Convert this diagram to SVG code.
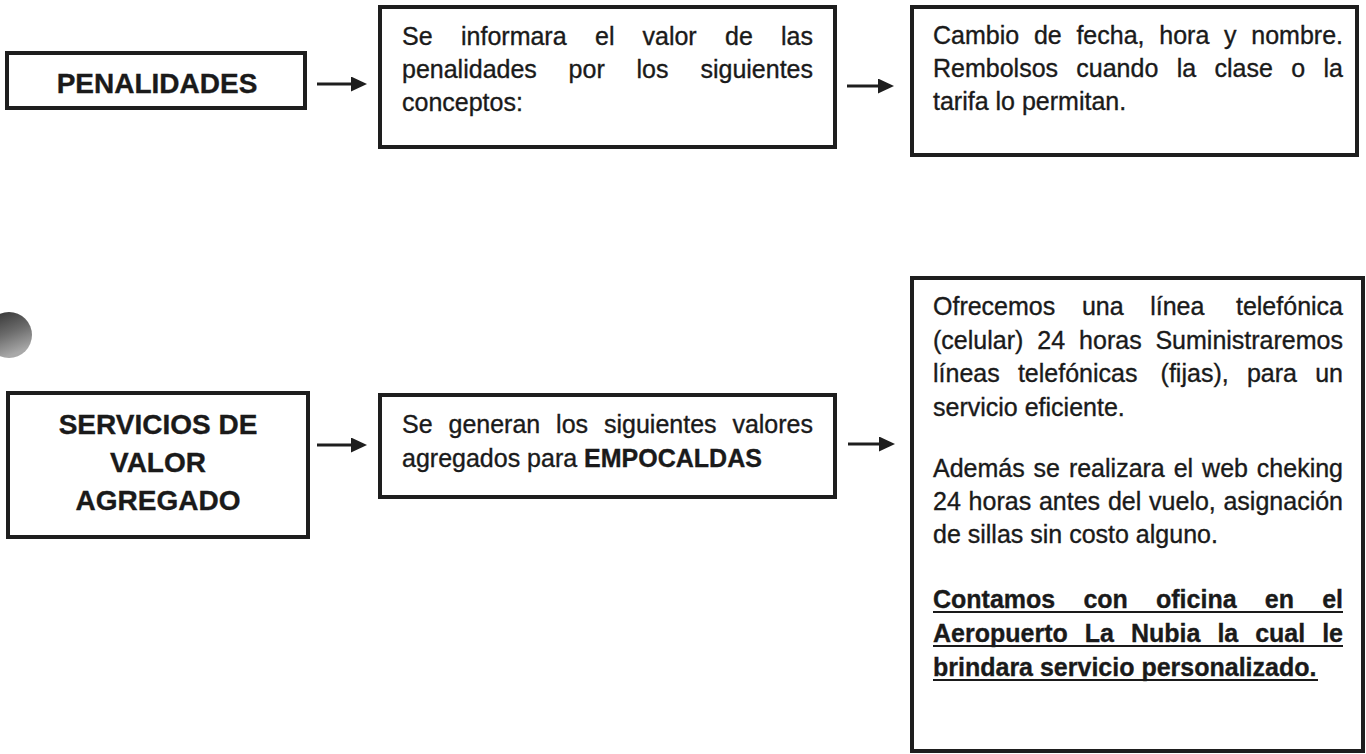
<svg xmlns="http://www.w3.org/2000/svg" width="1366" height="754" viewBox="0 0 1366 754">
<style>
.box{fill:#fff;stroke:#1e1e1e;stroke-width:4}
.t{font-family:"Liberation Sans",Arial,sans-serif;font-size:25px;fill:#1a1a1a;stroke:#1a1a1a;stroke-width:0.35}
.b{font-weight:bold}
.title{font-family:"Liberation Sans",Arial,sans-serif;font-size:28px;font-weight:bold;fill:#1a1a1a;stroke:#1a1a1a;stroke-width:0.35;text-anchor:middle}
.e{text-anchor:end}
.conn{stroke:#1e1e1e;stroke-width:3;fill:none}
.ul{stroke:#1a1a1a;stroke-width:2.2}
</style>
<defs>
<marker id="ah" viewBox="0 0 16 15" refX="1" refY="7.5" markerWidth="16" markerHeight="15" markerUnits="userSpaceOnUse" orient="auto">
<path d="M0,0 L16,7.5 L0,15 z" fill="#1e1e1e"/>
</marker>
<linearGradient id="hole" x1="0" y1="0" x2="0.4" y2="1">
<stop offset="0" stop-color="#2e2e2e"/>
<stop offset="0.55" stop-color="#6a6a6a"/>
<stop offset="1" stop-color="#a8a8a8"/>
</linearGradient>
</defs>
<rect width="1366" height="754" fill="#fff"/>
<circle cx="9" cy="335" r="23" fill="url(#hole)"/>

<g id="penalidades">
<rect class="box" x="7" y="53" width="298" height="55"/>
<text class="title" x="157" y="93">PENALIDADES</text>
</g>

<g id="informara">
<rect class="box" x="380" y="7" width="455" height="140"/>
<text class="t"><tspan x="402" y="45">Se</tspan><tspan x="461" y="45">informara</tspan><tspan x="595" y="45">el</tspan><tspan x="642.5" y="45">valor</tspan><tspan x="725" y="45">de</tspan><tspan class="e" x="813" y="45">las</tspan></text>
<text class="t"><tspan x="402" y="78">penalidades</tspan><tspan x="568.6" y="78">por</tspan><tspan x="636.5" y="78">los</tspan><tspan class="e" x="813" y="78">siguientes</tspan></text>
<text class="t" x="402" y="111">conceptos:</text>
</g>

<g id="cambio">
<rect class="box" x="912" y="7" width="445" height="148"/>
<text class="t"><tspan x="933" y="44">Cambio</tspan><tspan x="1033.9" y="44">de</tspan><tspan x="1076.4" y="44">fecha,</tspan><tspan x="1159.3" y="44">hora</tspan><tspan x="1224" y="44">y</tspan><tspan class="e" x="1343" y="44">nombre.</tspan></text>
<text class="t"><tspan x="933" y="77">Rembolsos</tspan><tspan x="1076.3" y="77">cuando</tspan><tspan x="1176.7" y="77">la</tspan><tspan x="1214.5" y="77">clase</tspan><tspan x="1291.2" y="77">o</tspan><tspan class="e" x="1343" y="77">la</tspan></text>
<text class="t" x="933" y="110">tarifa lo permitan.</text>
</g>

<g id="servicios">
<rect class="box" x="8" y="393" width="300" height="144"/>
<text class="title" x="158" y="434">SERVICIOS DE</text>
<text class="title" x="158" y="472">VALOR</text>
<text class="title" x="158" y="510">AGREGADO</text>
</g>

<g id="generan">
<rect class="box" x="380" y="395" width="455" height="102"/>
<text class="t"><tspan x="402" y="433">Se</tspan><tspan x="448.5" y="433">generan</tspan><tspan x="556.1" y="433">los</tspan><tspan x="604" y="433">siguientes</tspan><tspan class="e" x="813" y="433">valores</tspan></text>
<text class="t" x="402" y="467">agregados para <tspan class="b">EMPOCALDAS</tspan></text>
</g>

<g id="ofrecemos">
<rect class="box" x="912" y="278" width="451" height="473"/>
<text class="t"><tspan x="933" y="315">Ofrecemos</tspan><tspan x="1081.9" y="315">una</tspan><tspan x="1150.2" y="315">línea</tspan><tspan class="e" x="1343" y="315">telefónica</tspan></text>
<text class="t"><tspan x="933" y="348.5">(celular)</tspan><tspan x="1037.3" y="348.5">24</tspan><tspan x="1079.1" y="348.5">horas</tspan><tspan class="e" x="1343" y="348.5">Suministraremos</tspan></text>
<text class="t"><tspan x="933" y="382">líneas</tspan><tspan x="1017.9" y="382">telefónicas</tspan><tspan x="1160.6" y="382">(fijas),</tspan><tspan x="1246.9" y="382">para</tspan><tspan class="e" x="1343" y="382">un</tspan></text>
<text class="t" x="933" y="415.5">servicio eficiente.</text>
<text class="t"><tspan x="933" y="477">Además</tspan><tspan x="1033.6" y="477">se</tspan><tspan x="1068.9" y="477">realizara</tspan><tspan x="1173.7" y="477">el</tspan><tspan x="1202.1" y="477">web</tspan><tspan class="e" x="1343" y="477">cheking</tspan></text>
<text class="t"><tspan x="933" y="510">24</tspan><tspan x="968.6" y="510">horas</tspan><tspan x="1038.9" y="510">antes</tspan><tspan x="1107.9" y="510">del</tspan><tspan x="1149.1" y="510">vuelo,</tspan><tspan class="e" x="1343" y="510">asignación</tspan></text>
<text class="t" x="933" y="543">de sillas sin costo alguno.</text>
<text class="t b"><tspan x="933" y="608">Contamos</tspan><tspan x="1083.4" y="608">con</tspan><tspan x="1156" y="608">oficina</tspan><tspan x="1264.8" y="608">en</tspan><tspan class="e" x="1343" y="608">el</tspan></text>
<text class="t b"><tspan x="933" y="642">Aeropuerto</tspan><tspan x="1084.7" y="642">La</tspan><tspan x="1130.9" y="642">Nubia</tspan><tspan x="1217.4" y="642">la</tspan><tspan x="1255.2" y="642">cual</tspan><tspan class="e" x="1343" y="642">le</tspan></text>
<text class="t b" x="933" y="676">brindara servicio personalizado.</text>
<line class="ul" x1="933" y1="612" x2="1343" y2="612"/>
<line class="ul" x1="933" y1="646" x2="1343" y2="646"/>
<line class="ul" x1="933" y1="680" x2="1318" y2="680"/>
</g>

<g id="connectors">
<line class="conn" x1="317" y1="84" x2="352" y2="84" marker-end="url(#ah)"/>
<line class="conn" x1="847" y1="86" x2="879" y2="86" marker-end="url(#ah)"/>
<line class="conn" x1="317" y1="445" x2="352" y2="445" marker-end="url(#ah)"/>
<line class="conn" x1="848" y1="444" x2="880" y2="444" marker-end="url(#ah)"/>
</g>
</svg>
